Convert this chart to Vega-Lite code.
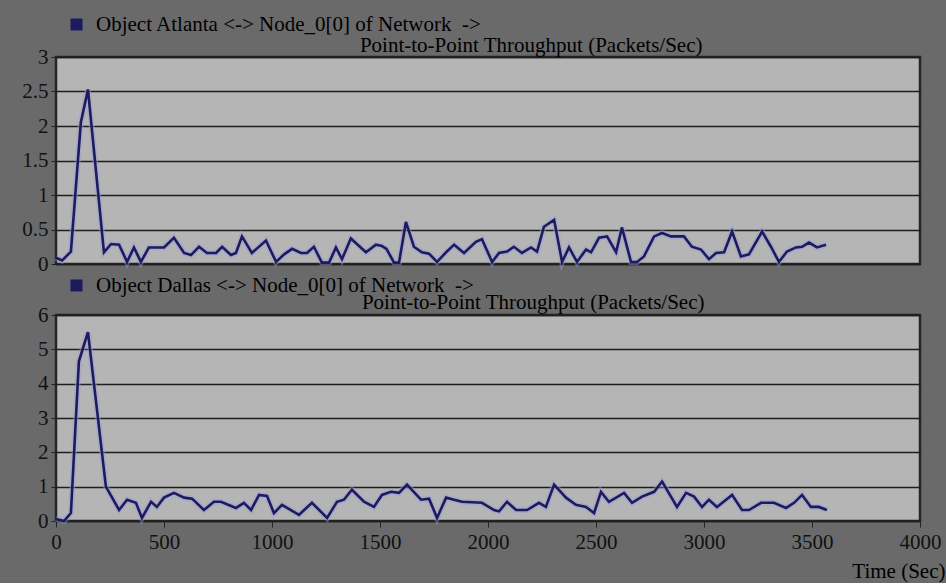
{
  "$schema": "https://vega.github.io/schema/vega-lite/v6.json",
  "background": "#6a6a6a",
  "padding": {"left": 20, "top": 12, "right": 0, "bottom": 0},
  "bounds": "flush",
  "spacing": 51,
  "config": {
    "font": "Liberation Serif",
    "view": {"fill": "#b5b5b5", "stroke": "#262626", "strokeWidth": 2.5},
    "axis": {
      "labelFont": "Liberation Serif",
      "titleFont": "Liberation Serif",
      "labelFontSize": 21,
      "titleFontSize": 21,
      "titleFontWeight": "normal",
      "labelColor": "#111111",
      "titleColor": "#000000",
      "tickColor": "#222222",
      "gridColor": "#1e1e1e",
      "gridWidth": 1.5,
      "gridOpacity": 1,
      "domain": false
    }
  },
  "resolve": {"scale": {"color": "independent"}, "legend": {"color": "independent"}},
  "datasets": {
    "atlanta": [
      {"t": 0, "v": 0.09}, {"t": 28, "v": 0.05}, {"t": 69, "v": 0.18}, {"t": 115, "v": 2.05}, {"t": 148, "v": 2.53},
      {"t": 222, "v": 0.17}, {"t": 255, "v": 0.29}, {"t": 292, "v": 0.28}, {"t": 329, "v": 0.03}, {"t": 361, "v": 0.24},
      {"t": 393, "v": 0.03}, {"t": 430, "v": 0.24}, {"t": 500, "v": 0.24}, {"t": 546, "v": 0.38}, {"t": 593, "v": 0.16},
      {"t": 625, "v": 0.13}, {"t": 662, "v": 0.25}, {"t": 699, "v": 0.16}, {"t": 741, "v": 0.16}, {"t": 769, "v": 0.25},
      {"t": 810, "v": 0.13}, {"t": 833, "v": 0.16}, {"t": 861, "v": 0.4}, {"t": 907, "v": 0.16}, {"t": 972, "v": 0.34},
      {"t": 1019, "v": 0.03}, {"t": 1056, "v": 0.14}, {"t": 1093, "v": 0.22}, {"t": 1134, "v": 0.16}, {"t": 1162, "v": 0.16},
      {"t": 1194, "v": 0.25}, {"t": 1231, "v": 0.02}, {"t": 1264, "v": 0.02}, {"t": 1296, "v": 0.24}, {"t": 1324, "v": 0.07},
      {"t": 1365, "v": 0.37}, {"t": 1435, "v": 0.17}, {"t": 1481, "v": 0.28}, {"t": 1509, "v": 0.26}, {"t": 1530, "v": 0.22},
      {"t": 1565, "v": 0.02}, {"t": 1588, "v": 0.02}, {"t": 1620, "v": 0.61}, {"t": 1657, "v": 0.25}, {"t": 1694, "v": 0.17},
      {"t": 1727, "v": 0.15}, {"t": 1764, "v": 0.03}, {"t": 1806, "v": 0.17}, {"t": 1843, "v": 0.28}, {"t": 1889, "v": 0.16},
      {"t": 1944, "v": 0.32}, {"t": 1972, "v": 0.36}, {"t": 2019, "v": 0.03}, {"t": 2051, "v": 0.16}, {"t": 2088, "v": 0.18},
      {"t": 2120, "v": 0.25}, {"t": 2157, "v": 0.16}, {"t": 2199, "v": 0.24}, {"t": 2227, "v": 0.18}, {"t": 2259, "v": 0.54},
      {"t": 2306, "v": 0.64}, {"t": 2343, "v": 0.03}, {"t": 2375, "v": 0.24}, {"t": 2412, "v": 0.03}, {"t": 2454, "v": 0.21},
      {"t": 2477, "v": 0.17}, {"t": 2514, "v": 0.38}, {"t": 2551, "v": 0.4}, {"t": 2593, "v": 0.17}, {"t": 2620, "v": 0.53},
      {"t": 2662, "v": 0.03}, {"t": 2690, "v": 0.03}, {"t": 2722, "v": 0.11}, {"t": 2769, "v": 0.4}, {"t": 2806, "v": 0.45},
      {"t": 2847, "v": 0.4}, {"t": 2907, "v": 0.4}, {"t": 2944, "v": 0.25}, {"t": 2986, "v": 0.21}, {"t": 3023, "v": 0.07},
      {"t": 3056, "v": 0.16}, {"t": 3093, "v": 0.17}, {"t": 3130, "v": 0.47}, {"t": 3171, "v": 0.11}, {"t": 3208, "v": 0.14},
      {"t": 3269, "v": 0.47}, {"t": 3310, "v": 0.25}, {"t": 3347, "v": 0.03}, {"t": 3384, "v": 0.18}, {"t": 3426, "v": 0.24},
      {"t": 3454, "v": 0.25}, {"t": 3486, "v": 0.31}, {"t": 3523, "v": 0.24}, {"t": 3565, "v": 0.28}
    ],
    "dallas": [
      {"t": 0, "v": 0.06}, {"t": 37, "v": 0.0}, {"t": 69, "v": 0.23}, {"t": 106, "v": 4.65}, {"t": 148, "v": 5.5},
      {"t": 231, "v": 1.0}, {"t": 292, "v": 0.32}, {"t": 329, "v": 0.62}, {"t": 370, "v": 0.53}, {"t": 398, "v": 0.09},
      {"t": 440, "v": 0.56}, {"t": 467, "v": 0.41}, {"t": 500, "v": 0.68}, {"t": 546, "v": 0.82}, {"t": 593, "v": 0.68},
      {"t": 630, "v": 0.65}, {"t": 685, "v": 0.32}, {"t": 731, "v": 0.56}, {"t": 764, "v": 0.56}, {"t": 833, "v": 0.38},
      {"t": 870, "v": 0.53}, {"t": 903, "v": 0.32}, {"t": 940, "v": 0.76}, {"t": 977, "v": 0.73}, {"t": 1009, "v": 0.23},
      {"t": 1046, "v": 0.47}, {"t": 1125, "v": 0.18}, {"t": 1185, "v": 0.53}, {"t": 1255, "v": 0.09}, {"t": 1301, "v": 0.56},
      {"t": 1333, "v": 0.62}, {"t": 1370, "v": 0.91}, {"t": 1426, "v": 0.56}, {"t": 1472, "v": 0.41}, {"t": 1509, "v": 0.76},
      {"t": 1551, "v": 0.85}, {"t": 1588, "v": 0.82}, {"t": 1625, "v": 1.06}, {"t": 1690, "v": 0.62}, {"t": 1727, "v": 0.65},
      {"t": 1764, "v": 0.09}, {"t": 1806, "v": 0.68}, {"t": 1843, "v": 0.62}, {"t": 1880, "v": 0.56}, {"t": 1972, "v": 0.53},
      {"t": 2028, "v": 0.32}, {"t": 2051, "v": 0.28}, {"t": 2088, "v": 0.56}, {"t": 2130, "v": 0.32}, {"t": 2181, "v": 0.32},
      {"t": 2236, "v": 0.53}, {"t": 2268, "v": 0.41}, {"t": 2306, "v": 1.06}, {"t": 2361, "v": 0.68}, {"t": 2407, "v": 0.47},
      {"t": 2454, "v": 0.41}, {"t": 2491, "v": 0.23}, {"t": 2523, "v": 0.85}, {"t": 2560, "v": 0.56}, {"t": 2630, "v": 0.82},
      {"t": 2667, "v": 0.53}, {"t": 2713, "v": 0.71}, {"t": 2769, "v": 0.85}, {"t": 2806, "v": 1.15}, {"t": 2847, "v": 0.71},
      {"t": 2875, "v": 0.41}, {"t": 2917, "v": 0.82}, {"t": 2954, "v": 0.71}, {"t": 2991, "v": 0.41}, {"t": 3023, "v": 0.62},
      {"t": 3060, "v": 0.41}, {"t": 3130, "v": 0.76}, {"t": 3176, "v": 0.32}, {"t": 3208, "v": 0.32}, {"t": 3264, "v": 0.53},
      {"t": 3324, "v": 0.53}, {"t": 3380, "v": 0.38}, {"t": 3417, "v": 0.53}, {"t": 3454, "v": 0.76}, {"t": 3495, "v": 0.41},
      {"t": 3532, "v": 0.41}, {"t": 3569, "v": 0.32}
    ]
  },
  "vconcat": [
    {
      "width": 864,
      "height": 207,
      "data": {"name": "atlanta"},
      "encoding": {
        "x": {"field": "t", "type": "quantitative", "scale": {"domain": [0, 4000], "nice": false}, "axis": null},
        "y": {
          "field": "v", "type": "quantitative",
          "scale": {"domain": [0, 3], "nice": false},
          "axis": {
            "values": [0, 0.5, 1, 1.5, 2, 2.5, 3], "format": "~g",
            "grid": true, "tickSize": 5, "labelPadding": 3,
            "title": "Point-to-Point Throughput (Packets/Sec)",
            "titleAngle": 0, "titleAlign": "right", "titleBaseline": "alphabetic",
            "titleX": 646, "titleY": -6
          }
        }
      },
      "layer": [
        {"mark": {"type": "line", "color": "#9c9cd6", "strokeWidth": 6, "opacity": 0.45}},
        {
          "mark": {"type": "line", "strokeWidth": 2.6},
          "encoding": {
            "color": {
              "datum": "Object Atlanta <-> Node_0[0] of Network \u00a0->",
              "type": "nominal",
              "scale": {"range": ["#1b1b5e"]},
              "legend": {
                "orient": "none", "legendX": 10, "legendY": -43, "title": null, "padding": 0,
                "symbolType": "square", "symbolSize": 110, "symbolFillColor": "#1b1b5e", "symbolStrokeColor": "#1b1b5e",
                "labelFont": "Liberation Serif", "labelFontSize": 21, "labelColor": "#000000", "labelOffset": 9, "labelLimit": 0
              }
            }
          }
        }
      ]
    },
    {
      "width": 864,
      "height": 206,
      "data": {"name": "dallas"},
      "encoding": {
        "x": {
          "field": "t", "type": "quantitative", "scale": {"domain": [0, 4000], "nice": false},
          "axis": {
            "values": [0, 500, 1000, 1500, 2000, 2500, 3000, 3500, 4000], "format": "d",
            "grid": false, "tickSize": 6, "labelPadding": 4, "labelFlush": false,
            "title": "Time (Sec)", "titleAlign": "right", "titleBaseline": "alphabetic",
            "titleX": 889, "titleY": 56
          }
        },
        "y": {
          "field": "v", "type": "quantitative",
          "scale": {"domain": [0, 6], "nice": false},
          "axis": {
            "values": [0, 1, 2, 3, 4, 5, 6], "format": "~g",
            "grid": true, "tickSize": 5, "labelPadding": 3,
            "title": "Point-to-Point Throughput (Packets/Sec)",
            "titleAngle": 0, "titleAlign": "right", "titleBaseline": "alphabetic",
            "titleX": 648, "titleY": -7
          }
        }
      },
      "layer": [
        {"mark": {"type": "line", "color": "#9c9cd6", "strokeWidth": 6, "opacity": 0.45}},
        {
          "mark": {"type": "line", "strokeWidth": 2.6},
          "encoding": {
            "color": {
              "datum": "Object Dallas <-> Node_0[0] of Network \u00a0->",
              "type": "nominal",
              "scale": {"range": ["#1b1b5e"]},
              "legend": {
                "orient": "none", "legendX": 10, "legendY": -40, "title": null, "padding": 0,
                "symbolType": "square", "symbolSize": 110, "symbolFillColor": "#1b1b5e", "symbolStrokeColor": "#1b1b5e",
                "labelFont": "Liberation Serif", "labelFontSize": 21, "labelColor": "#000000", "labelOffset": 9, "labelLimit": 0
              }
            }
          }
        }
      ]
    }
  ]
}
